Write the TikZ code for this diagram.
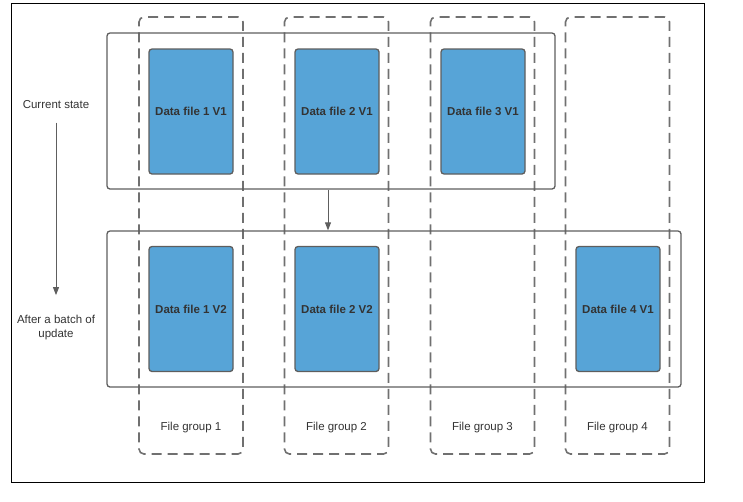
\documentclass[tikz,border=0pt]{standalone}
\usepackage{fontspec}
\setmainfont{Liberation Sans}
\usetikzlibrary{arrows.meta}
\definecolor{fileblue}{HTML}{57A4D7}
\definecolor{edgegray}{HTML}{5E5E5E}
\definecolor{dashgray}{HTML}{707070}
\definecolor{textgray}{HTML}{333333}

\begin{document}
\begin{tikzpicture}[x=1pt, y=-1pt,
    datafile/.style={draw=edgegray, line width=1.3pt, fill=fileblue, rounded corners=3pt,
      minimum width=84pt, minimum height=125pt, inner sep=0pt,
      font=\fontsize{11.5}{13}\selectfont\bfseries, text=textgray},
    filegroup/.style={draw=dashgray, line width=1.6pt, dash pattern=on 10pt off 6pt,
      rounded corners=5pt, minimum width=104pt, minimum height=437pt, inner sep=0pt},
    statebox/.style={draw=edgegray, line width=1.3pt, rounded corners=3pt,
      minimum height=156pt, inner sep=0pt},
    lbl/.style={font=\fontsize{11.5}{14}\selectfont, text=textgray, align=center},
    flow/.style={draw=edgegray, line width=1pt, -{Triangle[width=6pt,length=8pt]}}]
  % Frame
  \useasboundingbox (0,0) rectangle (743,501);
  \draw[line width=1pt] (11,3) rectangle (704,482);
  % File groups
  \node[filegroup] (grp1) at (191,235.5) {};
  \node[filegroup] (grp2) at (336.5,235.5) {};
  \node[filegroup] (grp3) at (482.5,235.5) {};
  \node[filegroup] (grp4) at (617.5,235.5) {};
  % State boxes
  \node[statebox, minimum width=448pt] (cur) at (331,111) {};
  \node[statebox, minimum width=574pt] (upd) at (394,309) {};
  % Data files
  \node[datafile] (f1v1) at (191,111.5) {Data file 1 V1};
  \node[datafile] (f2v1) at (337,111.5) {Data file 2 V1};
  \node[datafile] (f3v1) at (483,111.5) {Data file 3 V1};
  \node[datafile] (f1v2) at (191,309) {Data file 1 V2};
  \node[datafile] (f2v2) at (337,309) {Data file 2 V2};
  \node[datafile] (f4v1) at (618,309) {Data file 4 V1};
  % Labels
  \node[lbl] (curlbl) at (56,105) {Current state};
  \node[lbl] (updlbl) at (56,328) {After a batch of\\update};
  \node[lbl] (g1lbl) at (191,428) {File group 1};
  \node[lbl] (g2lbl) at (336.5,428) {File group 2};
  \node[lbl] (g3lbl) at (482.5,428) {File group 3};
  \node[lbl] (g4lbl) at (617.5,428) {File group 4};
  % Arrows
  \coordinate (step) at (328,0);
  \draw[flow] (cur.south -| step) -- (upd.north -| step);
  \draw[flow, shorten <=10pt, shorten >=17pt] (curlbl.south) -- (updlbl.north);
\end{tikzpicture}
\end{document}
